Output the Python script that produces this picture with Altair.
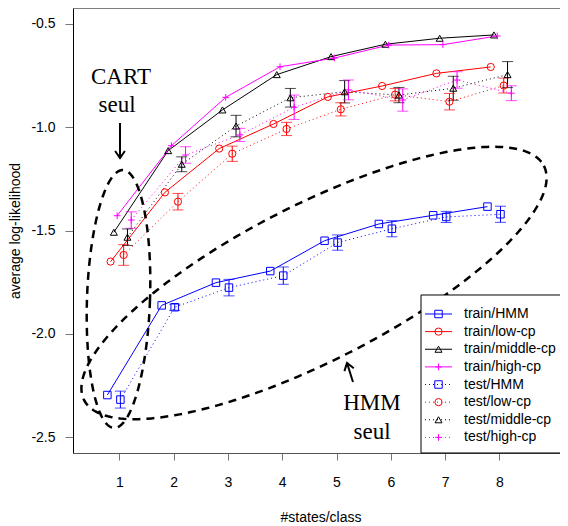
import altair as alt
import numpy as np
import pandas as pd

# ---------------- data ----------------
states = [1, 2, 3, 4, 5, 6, 7, 8]
models = ["HMM", "low-cp", "middle-cp", "high-cp"]

train_hmm = [-2.296, -1.862, -1.752, -1.696, -1.549, -1.468, -1.426, -1.384]
train_low = [-1.650, -1.315, -1.103, -0.984, -0.853, -0.800, -0.739, -0.708]
train_mid = [-1.508, -1.113, -0.916, -0.745, -0.658, -0.598, -0.569, -0.553]
train_high = [-1.428, -1.089, -0.855, -0.707, -0.665, -0.602, -0.600, -0.558]

test_hmm = [-2.318, -1.871, -1.776, -1.718, -1.558, -1.491, -1.434, -1.421]
test_low = [-1.618, -1.360, -1.128, -1.008, -0.913, -0.842, -0.876, -0.798]
test_mid = [-1.532, -1.179, -0.994, -0.857, -0.828, -0.844, -0.811, -0.745]
test_high = [-1.449, -1.134, -1.037, -0.903, -0.819, -0.868, -0.771, -0.835]

err_hmm = [0.041, 0.015, 0.040, 0.042, 0.037, 0.039, 0.027, 0.039]
err_low = [0.050, 0.040, 0.037, 0.032, 0.032, 0.030, 0.040, 0.036]
err_mid = [0.040, 0.036, 0.052, 0.045, 0.054, 0.037, 0.058, 0.063]
err_high = [0.040, 0.040, 0.032, 0.059, 0.048, 0.054, 0.040, 0.036]

legend_labels = ["train/HMM", "train/low-cp", "train/middle-cp", "train/high-cp",
                 "test/HMM", "test/low-cp", "test/middle-cp", "test/high-cp"]

x_ticks = [1, 2, 3, 4, 5, 6, 7, 8]
y_ticks = [-0.5, -1.0, -1.5, -2.0, -2.5]

# dodge of each series around the integer state count
train_shift = [-0.22, -0.16, -0.10, -0.04]
test_shift = [0.02, 0.08, 0.15, 0.22]

# ---------------- styles ----------------
colors = ["#0000FF", "#FF0000", "#000000", "#FF00FF"]
PLUS = "M-1,0L1,0M0,-1L0,1"
shapes = ["square", "circle", "triangle-up", PLUS]
sizes = [56, 45, 90, 81]
SANS = "Liberation Sans"
SERIF = "Liberation Serif"

W, H = 487, 445
xs = alt.Scale(domain=[0.1473, 9.116], nice=False, zero=False)
ys = alt.Scale(domain=[-2.5765, -0.4226], nice=False, zero=False)

# layout helpers (reference pixel layout -> data units)
def dx(px):
    return 1 + (np.asarray(px, dtype=float) - 119.3) / 54.3

def dy(py):
    return -0.5 - (np.asarray(py, dtype=float) - 24.0) / 206.6

x_axis = alt.Axis(values=x_ticks, format="d", grid=False, domain=True, domainColor="#555",
                  domainWidth=1, tickColor="#777", tickSize=7, labelFont=SANS, labelFontSize=14,
                  labelColor="black", labelBaseline="middle", labelPadding=22,
                  title="#states/class", titleFont=SANS, titleFontSize=14,
                  titleFontWeight="normal", titleColor="black", titleX=247.5, titleY=64,
                  titleBaseline="middle", titleAlign="center")
y_axis = alt.Axis(values=y_ticks, labelExpr="'-' + format(abs(datum.value), '.1f')",
                  grid=False, domain=True, domainColor="black", domainWidth=1,
                  tickColor="#777", tickSize=8, labelFont=SANS, labelFontSize=14,
                  labelColor="black", labelPadding=10, title="average log-likelihood",
                  titleFont=SANS, titleFontSize=14, titleFontWeight="normal",
                  titleColor="black", titleX=-58, titleY=H / 2, titleAngle=-90,
                  titleBaseline="middle", titleAlign="center")

def X(f):
    return alt.X(f, scale=xs, axis=x_axis)

def Y(f):
    return alt.Y(f, scale=ys, axis=y_axis)

# ---------------- build table ----------------
trains = [train_hmm, train_low, train_mid, train_high]
tests = [test_hmm, test_low, test_mid, test_high]
errs = [err_hmm, err_low, err_mid, err_high]
rows = []
for k, m in enumerate(models):
    for j, n in enumerate(states):
        rows.append(dict(model=m, set="train", x=n + train_shift[k], y=trains[k][j],
                         lo=np.nan, hi=np.nan, o=j))
        rows.append(dict(model=m, set="test", x=n + test_shift[k], y=tests[k][j],
                         lo=tests[k][j] - errs[k][j], hi=tests[k][j] + errs[k][j], o=j))
df = pd.DataFrame(rows)
df_train = df[df.set == "train"]
df_test = df[df.set == "test"]

color = alt.Color("model:N", scale=alt.Scale(domain=models, range=colors), legend=None)
shape = alt.Shape("model:N", scale=alt.Scale(domain=models, range=shapes), legend=None)
size = alt.Size("model:N", scale=alt.Scale(domain=models, range=sizes), legend=None)

train_lines = alt.Chart(df_train).mark_line(strokeWidth=1).encode(
    x=X("x:Q"), y=Y("y:Q"), color=color, detail="model:N", order="o:Q")

test_lines = alt.Chart(df_test).mark_line(strokeWidth=1, strokeDash=[1, 3]).encode(
    x=X("x:Q"), y=Y("y:Q"), color=color, detail="model:N", order="o:Q")

err_rule = alt.Chart(df_test).mark_rule(strokeWidth=1).encode(
    x=X("x:Q"), y=Y("lo:Q"), y2="hi:Q", color=color)
cap_lo = alt.Chart(df_test).mark_tick(orient="horizontal", size=11, thickness=1).encode(
    x=X("x:Q"), y=Y("lo:Q"), color=color)
cap_hi = alt.Chart(df_test).mark_tick(orient="horizontal", size=11, thickness=1).encode(
    x=X("x:Q"), y=Y("hi:Q"), color=color)

pts = alt.Chart(df).mark_point(filled=False, strokeWidth=1, opacity=1).encode(
    x=X("x:Q"), y=Y("y:Q"), color=color, shape=shape, size=size)

# ---------------- annotations ----------------
t = np.linspace(0, 2 * np.pi, 240)
ell_rows = []
# (center x px, center y px, semi-axis along u px, semi-axis along n px, angle deg)
ell_params = [(118.5, 299.0, 31.5, 129.0, -2.0), (314.0, 283.0, 258.0, 78.0, 27.0)]
for eid, (cx, cy, a, b, th) in enumerate(ell_params):
    r = np.deg2rad(th)
    ux, uy = np.cos(r), -np.sin(r)
    nx, ny = np.sin(r), np.cos(r)
    px = cx + a * np.cos(t) * ux + b * np.sin(t) * nx
    py = cy + a * np.cos(t) * uy + b * np.sin(t) * ny
    for i in range(len(t)):
        ell_rows.append(dict(eid=eid, i=i, x=float(dx(px[i])), y=float(dy(py[i]))))
ell_df = pd.DataFrame(ell_rows)
ellipses = alt.Chart(ell_df).mark_line(color="black", strokeWidth=2.5, strokeDash=[8, 6]).encode(
    x=X("x:Q"), y=Y("y:Q"), detail="eid:N", order="i:Q")

arrow_df = pd.DataFrame({
    "x": [float(dx(120)), float(dx(353))], "y": [float(dy(123)), float(dy(382))],
    "x2": [float(dx(120)), float(dx(347))], "y2": [float(dy(158)), float(dy(363))],
    "ang": [0.0, 162.5]})
shafts = alt.Chart(arrow_df).mark_rule(color="black", strokeWidth=2).encode(
    x=X("x:Q"), y=Y("y:Q"), x2="x2:Q", y2="y2:Q")
heads = alt.Chart(arrow_df).mark_point(shape="M-0.7,-1L0,0L0.7,-1", filled=False,
                                       strokeWidth=2, size=196, color="black", opacity=1).encode(
    x=X("x2:Q"), y=Y("y2:Q"), angle=alt.Angle("ang:Q", scale=None))

note_df = pd.DataFrame({
    "txt": ["CART", "seul", "HMM", "seul"],
    "x": [float(dx(121)), float(dx(117)), float(dx(372)), float(dx(372))],
    "y": [float(dy(77)), float(dy(105)), float(dy(403)), float(dy(432))]})
notes = alt.Chart(note_df).mark_text(font=SERIF, fontSize=23, color="black",
                                     align="center", baseline="middle").encode(
    x=X("x:Q"), y=Y("y:Q"), text="txt:N")

# ---------------- legend ----------------
leg_y = [314 + 17.63 * i for i in range(8)]
leg = pd.DataFrame({
    "label": legend_labels,
    "model": models * 2,
    "set": ["train"] * 4 + ["test"] * 4,
    "y": [float(dy(v)) for v in leg_y],
    "x": float(dx(425)), "x2": float(dx(452)),
    "mx": float(dx(438.5)), "tx": float(dx(464))})
box_df = pd.DataFrame({"x": [float(dx(421))], "x2": [float(dx(640))],
                       "y": [float(dy(295))], "y2": [float(dy(453))]})
leg_box = alt.Chart(box_df).mark_rect(fill="white", stroke="black", strokeWidth=1).encode(
    x=X("x:Q"), x2="x2:Q", y=Y("y:Q"), y2="y2:Q")
leg_lines = alt.Chart(leg).mark_rule(strokeWidth=1).encode(
    x=X("x:Q"), x2="x2:Q", y=Y("y:Q"), color=color,
    strokeDash=alt.StrokeDash("set:N", scale=alt.Scale(domain=["train", "test"],
                                                       range=[[1, 0], [1, 3]]), legend=None))
leg_pts = alt.Chart(leg).mark_point(filled=False, strokeWidth=1, opacity=1).encode(
    x=X("mx:Q"), y=Y("y:Q"), color=color, shape=shape, size=size)
leg_txt = alt.Chart(leg).mark_text(font=SANS, fontSize=14, color="black",
                                   align="left", baseline="middle").encode(
    x=X("tx:Q"), y=Y("y:Q"), text="label:N")

top_border = alt.Chart(pd.DataFrame({"a": [0]})).mark_rule(color="#555", strokeWidth=1.5).encode(
    x=alt.value(0), x2=alt.value(W), y=alt.value(0))

chart = alt.layer(
    train_lines, test_lines, err_rule, cap_lo, cap_hi, pts,
    ellipses, shafts, heads, notes,
    leg_box, leg_lines, leg_pts, leg_txt, top_border
).properties(
    width=W, height=H,
    autosize=alt.AutoSizeParams(type="none"),
    padding={"left": 65, "top": 0, "right": 0, "bottom": 71},
    background="white"
).configure_view(strokeWidth=0)

chart.save("out.html", embed_options={"renderer": "svg", "actions": False})
